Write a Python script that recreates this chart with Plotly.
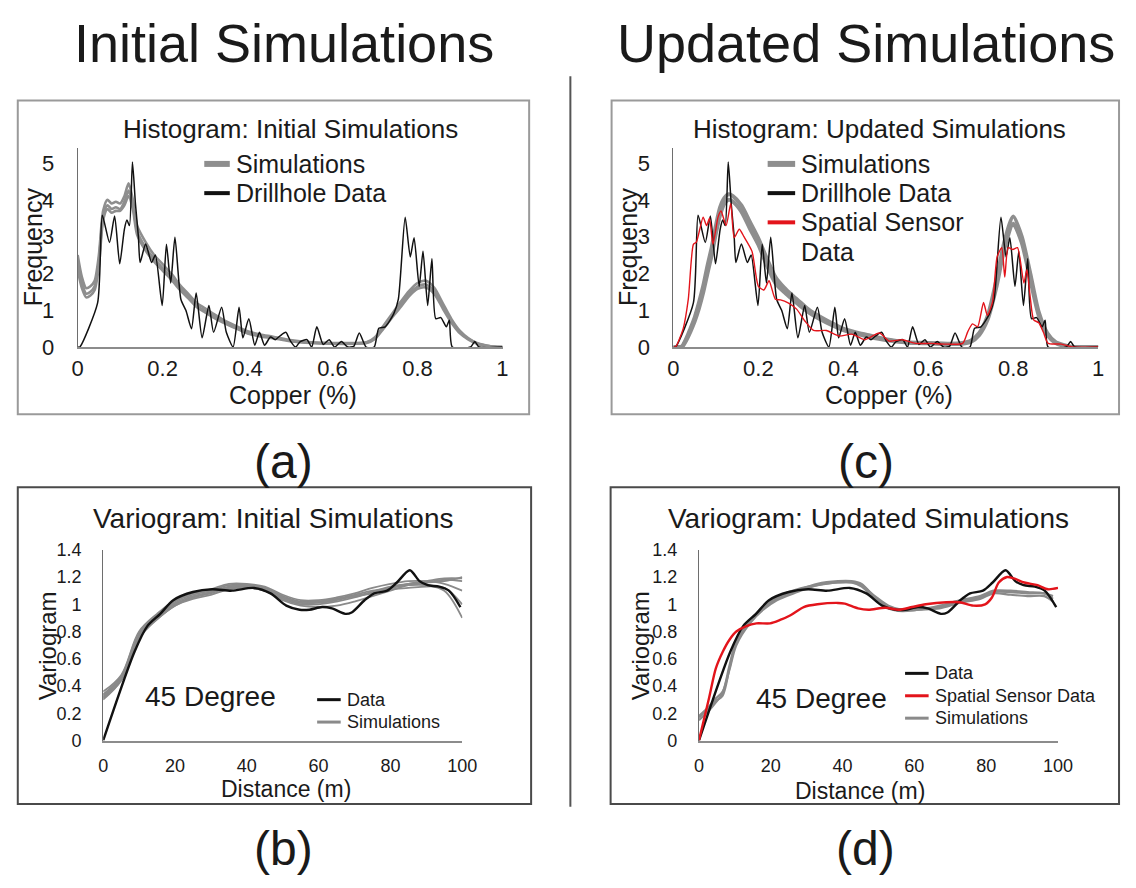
import plotly.graph_objects as go

W, H = 1136, 888
FONT = "Liberation Sans, Arial, sans-serif"
TXT = "#1a1a1a"

# ---------------- Histogram data (Copper %, Frequency) ----------------
drill_x = [0.0, 0.005, 0.047, 0.058, 0.075, 0.087, 0.099, 0.110, 0.116, 0.122, 0.129, 0.136,
           0.143, 0.147, 0.160, 0.174, 0.183, 0.199, 0.209, 0.219, 0.229, 0.243, 0.255, 0.268,
           0.279, 0.293, 0.309, 0.320, 0.339, 0.350, 0.366, 0.380, 0.389, 0.403, 0.417, 0.428,
           0.440, 0.454, 0.465, 0.476, 0.490, 0.501, 0.513, 0.524, 0.540, 0.551, 0.563, 0.578,
           0.592, 0.605, 0.621, 0.636, 0.650, 0.663, 0.679, 0.698, 0.709, 0.724, 0.744, 0.755,
           0.771, 0.783, 0.792, 0.804, 0.813, 0.824, 0.834, 0.843, 0.855, 0.868, 0.875, 0.882,
           0.925, 0.935, 0.945, 1.0]
drill_y = [0.0, 0.0, 1.2, 3.58, 2.84, 3.56, 2.26, 3.2, 3.45, 3.3, 5.03, 3.9,
           3.0, 2.3, 2.8, 2.3, 2.5, 1.13, 2.79, 1.74, 2.98, 1.3, 0.99, 0.5,
           1.47, 0.25, 1.13, 0.4, 1.08, 0.4, 0.0, 1.08, 0.25, 0.77, 0.05, 0.4,
           0.05, 0.27, 0.2, 0.3, 0.4, 0.16, 0.0, 0.15, 0.2, 0.0, 0.55, 0.07,
           0.2, 0.0, 0.15, 0.0, 0.02, 0.38, 0.0, 0.0, 0.51, 0.55, 0.9, 1.3,
           3.53, 2.45, 2.97, 1.65, 2.6, 1.13, 2.4, 0.77, 0.8, 0.55, 0.73, 0.0,
           0.0, 0.15, 0.0, 0.0]

hist_grid = [0.0, 0.01, 0.02, 0.03, 0.04, 0.05, 0.06, 0.07, 0.08, 0.09, 0.10, 0.11, 0.12,
             0.13, 0.14, 0.16, 0.18, 0.20, 0.22, 0.24, 0.26, 0.28, 0.30, 0.32, 0.34, 0.36,
             0.38, 0.40, 0.43, 0.46, 0.50, 0.55, 0.60, 0.65, 0.68, 0.70, 0.72, 0.74, 0.76,
             0.78, 0.80, 0.82, 0.84, 0.86, 0.88, 0.90, 0.92, 0.94, 0.96, 0.98, 1.0]

init_sim1 = [2.5, 1.9, 1.6, 1.65, 1.8, 2.5, 3.7, 4.0, 3.9, 3.95, 3.9, 4.1, 4.45,
             4.0, 3.3, 2.85, 2.5, 2.25, 2.0, 1.7, 1.45, 1.2, 1.05, 0.9, 0.76, 0.64,
             0.53, 0.43, 0.34, 0.28, 0.19, 0.13, 0.11, 0.11, 0.13, 0.27, 0.58, 0.9, 1.22,
             1.52, 1.74, 1.8, 1.6, 1.18, 0.76, 0.44, 0.24, 0.11, 0.05, 0.01, 0.0]
init_sim2 = [2.3, 1.75, 1.45, 1.5, 1.65, 2.35, 3.55, 3.85, 3.75, 3.8, 3.75, 3.95, 4.25,
             3.85, 3.15, 2.7, 2.4, 2.15, 1.9, 1.62, 1.38, 1.13, 0.98, 0.84, 0.71, 0.6,
             0.49, 0.39, 0.31, 0.26, 0.17, 0.12, 0.1, 0.1, 0.12, 0.24, 0.53, 0.84, 1.14,
             1.44, 1.64, 1.7, 1.5, 1.1, 0.7, 0.4, 0.22, 0.1, 0.04, 0.01, 0.0]
init_sim3 = [2.1, 1.6, 1.35, 1.4, 1.55, 2.2, 3.45, 3.75, 3.65, 3.7, 3.7, 3.85, 4.1,
             3.75, 3.05, 2.62, 2.32, 2.08, 1.84, 1.56, 1.33, 1.09, 0.94, 0.8, 0.68, 0.57,
             0.47, 0.37, 0.29, 0.24, 0.16, 0.11, 0.09, 0.09, 0.11, 0.22, 0.5, 0.8, 1.08,
             1.38, 1.58, 1.62, 1.44, 1.04, 0.66, 0.37, 0.2, 0.09, 0.03, 0.01, 0.0]

upd_sim1 = [0.0, 0.0, 0.02, 0.22, 0.5, 0.8, 1.2, 1.65, 2.2, 2.7, 3.3, 3.8, 4.05,
            4.15, 4.1, 3.85, 3.4, 2.95, 2.4, 1.9, 1.62, 1.4, 1.2, 1.0, 0.86, 0.73,
            0.61, 0.5, 0.4, 0.32, 0.21, 0.13, 0.11, 0.09, 0.11, 0.17, 0.38, 0.85, 1.8,
            2.9, 3.55, 3.0, 2.0, 0.95, 0.38, 0.13, 0.05, 0.0, 0.0, 0.0, 0.0]
upd_sim2 = [0.0, 0.0, 0.0, 0.18, 0.42, 0.7, 1.05, 1.48, 2.0, 2.5, 3.1, 3.6, 3.9,
            4.0, 3.95, 3.68, 3.22, 2.78, 2.22, 1.74, 1.5, 1.3, 1.1, 0.93, 0.79, 0.67,
            0.56, 0.46, 0.36, 0.28, 0.19, 0.12, 0.1, 0.08, 0.09, 0.14, 0.33, 0.76, 1.62,
            2.72, 3.35, 2.84, 1.84, 0.86, 0.33, 0.11, 0.03, 0.0, 0.0, 0.0, 0.0]

spatial_x = [0.0, 0.005, 0.023, 0.035, 0.047, 0.054, 0.062, 0.070, 0.078, 0.085, 0.093, 0.105,
             0.112, 0.124, 0.135, 0.143, 0.155, 0.166, 0.185, 0.200, 0.213, 0.225, 0.240, 0.252,
             0.270, 0.290, 0.310, 0.330, 0.360, 0.390, 0.420, 0.450, 0.485, 0.508, 0.539, 0.570,
             0.608, 0.639, 0.681, 0.693, 0.704, 0.716, 0.730, 0.739, 0.751, 0.762, 0.773, 0.780,
             0.788, 0.799, 0.810, 0.825, 0.832, 0.840, 0.848, 0.860, 0.871, 0.882, 0.913, 0.940,
             1.0]
spatial_y = [0.0, 0.0, 0.5, 1.3, 2.79, 2.85, 3.2, 3.53, 3.3, 3.5, 2.79, 3.53,
             3.7, 3.3, 3.9, 2.97, 3.2, 3.0, 2.6, 1.65, 1.55, 1.8, 1.3, 1.28,
             1.2, 1.03, 0.7, 0.45, 0.45, 0.3, 0.35, 0.2, 0.38, 0.16, 0.2, 0.1,
             0.1, 0.08, 0.1, 0.42, 0.63, 0.55, 1.21, 0.86, 1.21, 2.45, 2.7, 1.9,
             2.7, 2.65, 2.7, 1.74, 2.1, 1.35, 0.74, 0.66, 0.4, 0.1, 0.08, 0.0,
             0.0]

# ---------------- Variogram data (Distance m, Variogram) ----------------
vdata_x = [0, 8.7, 12.3, 15.9, 19.5, 25, 30.4, 35.8, 42, 46.6, 51, 54.7, 57.4, 61, 63.7,
           67.4, 69.2, 72.8, 75.5, 79.1, 81.8, 85.4, 88.1, 90.4, 93.6, 96.3, 99.5]
vdata_y = [0, 0.65, 0.84, 0.93, 1.03, 1.09, 1.11, 1.10, 1.12, 1.08, 0.99, 0.96, 0.96, 0.98, 0.97,
           0.93, 0.94, 1.03, 1.08, 1.10, 1.16, 1.25, 1.17, 1.14, 1.13, 1.10, 0.98]

vsim_grid = [0, 5, 10, 15, 20, 25, 30, 35, 40, 45, 50, 55, 60, 65, 70, 75, 80, 85, 90, 95, 100]
vsim_b1 = [0.30, 0.44, 0.76, 0.90, 1.00, 1.05, 1.08, 1.12, 1.13, 1.11, 1.04, 1.00, 1.00, 1.02, 1.05, 1.09, 1.13, 1.15, 1.16, 1.17, 1.20]
vsim_b2 = [0.34, 0.47, 0.79, 0.92, 1.02, 1.07, 1.10, 1.14, 1.14, 1.12, 1.06, 1.02, 1.02, 1.04, 1.07, 1.10, 1.12, 1.14, 1.14, 1.10, 0.90]
vsim_b3 = [0.32, 0.45, 0.77, 0.89, 0.99, 1.04, 1.07, 1.11, 1.12, 1.10, 1.03, 0.99, 0.98, 0.99, 1.02, 1.06, 1.10, 1.14, 1.16, 1.18, 1.17]
vsim_b4 = [0.36, 0.48, 0.80, 0.93, 1.03, 1.08, 1.11, 1.15, 1.15, 1.13, 1.07, 1.03, 1.03, 1.05, 1.08, 1.12, 1.15, 1.17, 1.17, 1.15, 1.10]
vsim_b5 = [0.31, 0.44, 0.75, 0.89, 0.99, 1.05, 1.09, 1.12, 1.13, 1.10, 1.05, 1.01, 1.01, 1.03, 1.06, 1.08, 1.11, 1.12, 1.13, 1.12, 1.00]
vsim_b6 = [0.33, 0.46, 0.78, 0.91, 1.01, 1.06, 1.09, 1.13, 1.14, 1.12, 1.05, 1.01, 1.02, 1.04, 1.06, 1.09, 1.12, 1.15, 1.17, 1.19, 1.19]

vsim_d_grid = [0, 2.8, 4.7, 6.6, 8.5, 10.4, 14.2, 17.9, 21.7, 27.4, 33, 38.7, 42.5, 45.3, 49,
               52.8, 56.6, 61.3, 67, 72.6, 78.3, 82, 86.8, 91.5, 96.2, 98.6]
vsim_d1 = [0.17, 0.24, 0.29, 0.33, 0.53, 0.72, 0.87, 0.97, 1.04, 1.10, 1.15, 1.17, 1.17, 1.15, 1.05,
           0.98, 0.96, 0.97, 0.98, 1.02, 1.05, 1.09, 1.09, 1.08, 1.08, 1.04]
vsim_d2 = [0.15, 0.22, 0.28, 0.35, 0.55, 0.73, 0.88, 0.98, 1.05, 1.11, 1.14, 1.16, 1.16, 1.13, 1.04,
           0.97, 0.95, 0.96, 0.97, 1.01, 1.04, 1.08, 1.07, 1.06, 1.06, 1.02]
vsim_d3 = [0.18, 0.25, 0.31, 0.36, 0.52, 0.70, 0.86, 0.96, 1.03, 1.09, 1.14, 1.16, 1.16, 1.14, 1.06,
           0.99, 0.96, 0.96, 0.99, 1.03, 1.06, 1.10, 1.10, 1.09, 1.08, 1.06]

vspatial_x = [0, 2.8, 4.7, 6.6, 8.5, 10.4, 13.2, 16, 19.8, 22.6, 25.5, 29.2, 33, 38.7, 40.6, 44.3,
              47.2, 51.9, 55.7, 59.4, 63.2, 68.9, 72.6, 76.4, 79.7, 81.6, 83.5, 85.8, 87.7, 90.6,
              94.3, 97.2, 100]
vspatial_y = [0, 0.31, 0.53, 0.65, 0.74, 0.80, 0.84, 0.86, 0.86, 0.885, 0.92, 0.98, 1.0, 1.01, 1.005,
              0.97, 0.96, 0.975, 0.96, 0.98, 1.0, 1.015, 1.015, 0.99, 1.0, 1.05, 1.16, 1.2, 1.19,
              1.16, 1.14, 1.11, 1.12]

hist_x_ticks = [0, 0.2, 0.4, 0.6, 0.8, 1]
hist_x_labels = ["0", "0.2", "0.4", "0.6", "0.8", "1"]
hist_y_ticks = [0, 1, 2, 3, 4, 5]
var_x_ticks = [0, 20, 40, 60, 80, 100]
var_y_ticks = [0, 0.2, 0.4, 0.6, 0.8, 1, 1.2, 1.4]
var_y_labels = ["0", "0.2", "0.4", "0.6", "0.8", "1", "1.2", "1.4"]


def fx(p):
    return p / W


def fy(p):
    return 1 - p / H


fig = go.Figure()

GRAY_HIST = "#8e8e8e"
GRAY_VAR = "#8a8a8a"
RED = "#e3141b"


def line(x, y, color, width, ax, smoothing=0.7):
    fig.add_trace(go.Scatter(
        x=x, y=y, mode="lines",
        line=dict(color=color, width=width, shape="spline", smoothing=smoothing),
        xaxis="x" + ax, yaxis="y" + ax, showlegend=False, hoverinfo="skip"))


# (a) histogram initial
for s in (init_sim1, init_sim3, init_sim2):
    line(hist_grid, s, GRAY_HIST, 2.6, "")
line(drill_x, drill_y, "#111111", 1.5, "", 0.6)

# (c) histogram updated
for s in (upd_sim1, upd_sim2):
    line(hist_grid, s, GRAY_HIST, 4, "2")
line(drill_x, drill_y, "#111111", 1.5, "2", 0.6)
line(spatial_x, spatial_y, RED, 1.4, "2", 0.6)

# (b) variogram initial
for s in (vsim_b1, vsim_b2, vsim_b3, vsim_b4, vsim_b5, vsim_b6):
    line(vsim_grid, s, GRAY_VAR, 1.8, "3", 1.0)
line(vdata_x, vdata_y, "#111111", 2.4, "3", 0.8)

# (d) variogram updated
for s in (vsim_d1, vsim_d2, vsim_d3):
    line(vsim_d_grid, s, GRAY_VAR, 2.2, "4", 0.9)
line(vdata_x, vdata_y, "#111111", 2.4, "4", 0.8)
line(vspatial_x, vspatial_y, RED, 2.4, "4", 0.8)


def xaxis(dom, rng, tv, tt, size, anchor, standoff):
    return dict(domain=dom, range=rng, tickvals=tv, ticktext=tt, showgrid=False, zeroline=False,
                showline=True, linecolor="#8c8c8c", linewidth=2, ticks="",
                tickfont=dict(size=size, color=TXT, family=FONT), anchor=anchor,
                ticklabelstandoff=standoff, fixedrange=True)


def yaxis(dom, rng, tv, tt, size, anchor, standoff):
    return dict(domain=dom, range=rng, tickvals=tv, ticktext=tt, showgrid=False, zeroline=False,
                showline=True, linecolor="#6e6e6e", linewidth=1.2, ticks="",
                tickfont=dict(size=size, color=TXT, family=FONT), anchor=anchor,
                ticklabelstandoff=standoff, fixedrange=True)


hist_ydom = [fy(346), fy(142)]
var_ydom = [fy(750), fy(554)]
hy_lab = [str(v) for v in hist_y_ticks]
vx_lab = [str(v) for v in var_x_ticks]

fig.update_layout(
    width=W, height=H, margin=dict(l=0, r=0, t=0, b=0),
    paper_bgcolor="white", plot_bgcolor="rgba(0,0,0,0)",
    font=dict(family=FONT, color=TXT),
    xaxis=xaxis([fx(73), fx(506)], [0, 1.0005], hist_x_ticks, hist_x_labels, 22, "y", 1),
    yaxis=yaxis(hist_ydom, [0, 5.4], hist_y_ticks, hy_lab, 22, "x", 18),
    xaxis2=xaxis([fx(680), fx(1113)], [0, 1.0005], hist_x_ticks, hist_x_labels, 22, "y2", 1),
    yaxis2=yaxis(hist_ydom, [0, 5.4], hist_y_ticks, hy_lab, 22, "x2", 18),
    xaxis3=xaxis([fx(99), fx(465)], [0, 100.05], var_x_ticks, vx_lab, 18, "y3", 8),
    yaxis3=yaxis(var_ydom, [0, 1.401], var_y_ticks, var_y_labels, 18, "x3", 17),
    xaxis4=xaxis([fx(706), fx(1072)], [0, 100.05], var_x_ticks, vx_lab, 18, "y4", 8),
    yaxis4=yaxis(var_ydom, [0, 1.401], var_y_ticks, var_y_labels, 18, "x4", 17),
)

shapes = []
# panel boxes
shapes.append(dict(type="rect", xref="paper", yref="paper", x0=fx(12), x1=fx(533), y0=fy(415), y1=fy(93),
                   line=dict(color="#9a9a9a", width=2)))
shapes.append(dict(type="rect", xref="paper", yref="paper", x0=fx(617), x1=fx(1134), y0=fy(415), y1=fy(93),
                   line=dict(color="#9a9a9a", width=2)))
shapes.append(dict(type="rect", xref="paper", yref="paper", x0=fx(12), x1=fx(535), y0=fy(815), y1=fy(490),
                   line=dict(color="#4a4a4a", width=2)))
shapes.append(dict(type="rect", xref="paper", yref="paper", x0=fx(616), x1=fx(1134), y0=fy(815), y1=fy(490),
                   line=dict(color="#4a4a4a", width=2)))
# divider
shapes.append(dict(type="line", xref="paper", yref="paper", x0=fx(575), x1=fx(575), y0=fy(818), y1=fy(68),
                   line=dict(color="#555555", width=2)))

annotations = []


def text(x, y, s, size, xanchor="center", angle=0, color=TXT):
    annotations.append(dict(xref="paper", yref="paper", x=fx(x), y=fy(y), text=s, showarrow=False,
                            xanchor=xanchor, yanchor="middle", textangle=angle,
                            font=dict(size=size, color=color, family=FONT)))


def legend_item(x0, x1, y, color, width, label, size):
    shapes.append(dict(type="line", xref="paper", yref="paper", x0=fx(x0), x1=fx(x1), y0=fy(y), y1=fy(y),
                       line=dict(color=color, width=width)))
    text(x1 + 4, y, label, size, xanchor="left")


# big titles
text(283, 34, "Initial Simulations", 54)
text(876, 34, "Updated Simulations", 54)
# panel letters
text(283, 463, "(a)", 48)
text(876, 463, "(c)", 48)
text(283, 861, "(b)", 48)
text(876, 861, "(d)", 48)

# (a)
text(290, 122, "Histogram: Initial Simulations", 26)
text(292, 395, "Copper (%)", 25)
text(27, 243, "Frequency", 25, angle=-90)
legend_item(202, 228, 158, GRAY_HIST, 6, "Simulations", 25)
legend_item(202, 228, 188, "#111111", 4, "Drillhole Data", 25)

# (c)
text(890, 122, "Histogram: Updated Simulations", 26)
text(900, 395, "Copper (%)", 25)
text(633, 243, "Frequency", 25, angle=-90)
legend_item(776, 804, 158, GRAY_HIST, 6, "Simulations", 25)
legend_item(776, 804, 188, "#111111", 4, "Drillhole Data", 25)
legend_item(776, 804, 218, RED, 4, "Spatial Sensor", 25)
text(808, 248, "Data", 25, xanchor="left")

# (b)
text(273, 522, "Variogram: Initial Simulations", 28)
text(285, 800, "Distance (m)", 23)
text(42, 653, "Variogram", 24, angle=-90)
text(208, 705, "45 Degree", 28)
legend_item(317, 341, 708, "#111111", 3, "Data", 18)
legend_item(317, 341, 731, GRAY_VAR, 3, "Simulations", 18)

# (d)
text(879, 522, "Variogram: Updated Simulations", 28)
text(870, 802, "Distance (m)", 23)
text(646, 653, "Variogram", 24, angle=-90)
text(831, 707, "45 Degree", 28)
legend_item(916, 940, 681, "#111111", 3, "Data", 18)
legend_item(916, 940, 704, RED, 3, "Spatial Sensor Data", 18)
legend_item(916, 940, 727, GRAY_VAR, 3, "Simulations", 18)

fig.update_layout(shapes=shapes, annotations=annotations)

fig.write_html("out.html")
